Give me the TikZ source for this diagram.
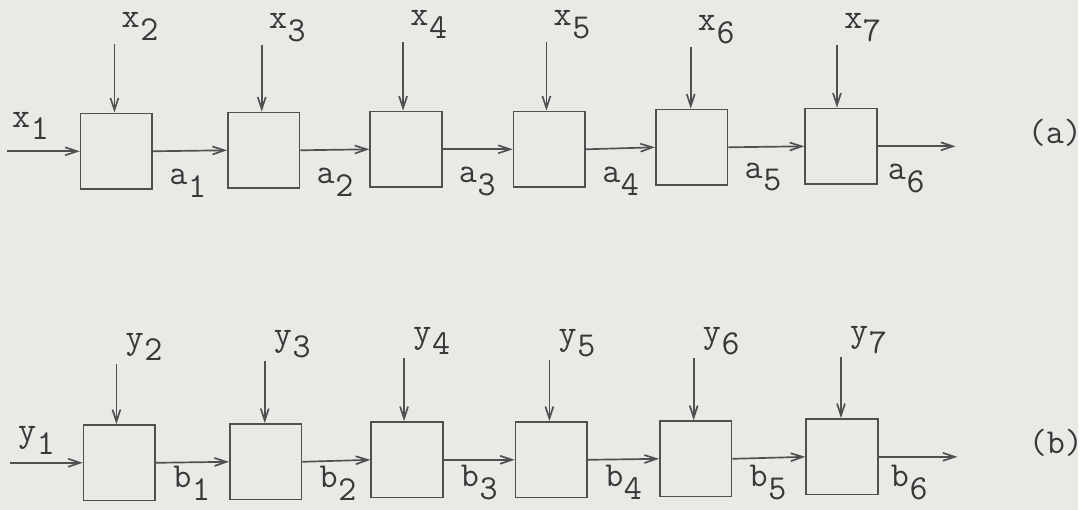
\documentclass[tikz,border=0pt]{standalone}
\usetikzlibrary{arrows.meta}
\definecolor{paper}{RGB}{233,233,230}
\definecolor{ink}{RGB}{80,80,80}
\newcommand{\sublab}[2]{#1\hspace{0.02em}\raisebox{-0.36em}{#2}}

\begin{document}
\begin{tikzpicture}[x=0.025cm, y=-0.025cm,
    blk/.style={rectangle, draw=ink, line width=1.2pt, minimum width=1.8cm,
                minimum height=1.9cm, inner sep=0pt},
    sig/.style={draw=ink, line width=1.2pt,
                -{Straight Barb[length=3mm, width=2mm]}},
    lab/.style={font=\ttfamily\fontsize{25}{30}\selectfont, text=ink!70!black,
                inner sep=0pt, anchor=base west},
  ]
  \fill[paper] (0,0) rectangle (1083,512);

  % Row (a)
  \node[blk] (a1) at (117,152) {};
  \node[blk] (a2) at (265,151) {};
  \node[blk] (a3) at (408,150) {};
  \node[blk] (a4) at (552,150) {};
  \node[blk] (a5) at (695,148) {};
  \node[blk] (a6) at (845,147) {};
  \coordinate (xin1) at (7,152);
  \coordinate (oa) at (960,147);
  \draw[sig] (xin1) -- (a1.west);
  \draw[sig] (a1.east) -- (a2.west);
  \draw[sig] (a2.east) -- (a3.west);
  \draw[sig] (a3.east) -- (a4.west);
  \draw[sig] (a4.east) -- (a5.west);
  \draw[sig] (a5.east) -- (a6.west);
  \draw[sig] (a6.east) -- (oa);

  % Inputs of row (a)
  \coordinate (xin2) at (115,44);
  \coordinate (xin3) at (263,45);
  \coordinate (xin4) at (405,42);
  \coordinate (xin5) at (549,42);
  \coordinate (xin6) at (694,47);
  \coordinate (xin7) at (841,45);
  \draw[sig] (xin2) -- (xin2 |- a1.north);
  \draw[sig] (xin3) -- (xin3 |- a2.north);
  \draw[sig] (xin4) -- (xin4 |- a3.north);
  \draw[sig] (xin5) -- (xin5 |- a4.north);
  \draw[sig] (xin6) -- (xin6 |- a5.north);
  \draw[sig] (xin7) -- (xin7 |- a6.north);

  % Labels of row (a)
  \node[lab] (lx1) at (12,128) {\sublab{x}{1}};
  \node[lab] (lx2) at ([shift={(7,-16)}]xin2) {\sublab{x}{2}};
  \node[lab] (lx3) at ([shift={(7,-16)}]xin3) {\sublab{x}{3}};
  \node[lab] (lx4) at ([shift={(7,-16)}]xin4) {\sublab{x}{4}};
  \node[lab] (lx5) at ([shift={(7,-16)}]xin5) {\sublab{x}{5}};
  \node[lab] (lx6) at ([shift={(7,-16)}]xin6) {\sublab{x}{6}};
  \node[lab] (lx7) at ([shift={(7,-16)}]xin7) {\sublab{x}{7}};
  \node[lab] (la1) at ([shift={(16,-5)}]a1.south east) {\sublab{a}{1}};
  \node[lab] (la2) at ([shift={(16,-5)}]a2.south east) {\sublab{a}{2}};
  \node[lab] (la3) at ([shift={(16,-5)}]a3.south east) {\sublab{a}{3}};
  \node[lab] (la4) at ([shift={(16,-5)}]a4.south east) {\sublab{a}{4}};
  \node[lab] (la5) at ([shift={(16,-8)}]a5.south east) {\sublab{a}{5}};
  \node[lab] (la6) at ([shift={(10,-5)}]a6.south east) {\sublab{a}{6}};
  \node[lab, anchor=center] (ta) at (1060,133) {(a)};

  % Row (b)
  \node[blk] (b1) at (120,465) {};
  \node[blk] (b2) at (267,464) {};
  \node[blk] (b3) at (409,462) {};
  \node[blk] (b4) at (554,462) {};
  \node[blk] (b5) at (699,461) {};
  \node[blk] (b6) at (846,459) {};
  \coordinate (yin1) at (10,465);
  \coordinate (ob) at (962,459);
  \draw[sig] (yin1) -- (b1.west);
  \draw[sig] (b1.east) -- (b2.west);
  \draw[sig] (b2.east) -- (b3.west);
  \draw[sig] (b3.east) -- (b4.west);
  \draw[sig] (b4.east) -- (b5.west);
  \draw[sig] (b5.east) -- (b6.west);
  \draw[sig] (b6.east) -- (ob);

  % Inputs of row (b)
  \coordinate (yin2) at (117,366);
  \coordinate (yin3) at (266,363);
  \coordinate (yin4) at (406,360);
  \coordinate (yin5) at (552,362);
  \coordinate (yin6) at (697,360);
  \coordinate (yin7) at (845,359);
  \draw[sig] (yin2) -- (yin2 |- b1.north);
  \draw[sig] (yin3) -- (yin3 |- b2.north);
  \draw[sig] (yin4) -- (yin4 |- b3.north);
  \draw[sig] (yin5) -- (yin5 |- b4.north);
  \draw[sig] (yin6) -- (yin6 |- b5.north);
  \draw[sig] (yin7) -- (yin7 |- b6.north);

  % Labels of row (b)
  \node[lab] (ly1) at (18,444) {\sublab{y}{1}};
  \node[lab] (ly2) at ([shift={(9,-16)}]yin2) {\sublab{y}{2}};
  \node[lab] (ly3) at ([shift={(9,-16)}]yin3) {\sublab{y}{3}};
  \node[lab] (ly4) at ([shift={(9,-16)}]yin4) {\sublab{y}{4}};
  \node[lab] (ly5) at ([shift={(9,-16)}]yin5) {\sublab{y}{5}};
  \node[lab] (ly6) at ([shift={(9,-16)}]yin6) {\sublab{y}{6}};
  \node[lab] (ly7) at ([shift={(9,-16)}]yin7) {\sublab{y}{7}};
  \node[lab] (lb1) at ([shift={(17,-14)}]b1.south east) {\sublab{b}{1}};
  \node[lab] (lb2) at ([shift={(17,-13)}]b2.south east) {\sublab{b}{2}};
  \node[lab] (lb3) at ([shift={(17,-12)}]b3.south east) {\sublab{b}{3}};
  \node[lab] (lb4) at ([shift={(17,-12)}]b4.south east) {\sublab{b}{4}};
  \node[lab] (lb5) at ([shift={(17,-11)}]b5.south east) {\sublab{b}{5}};
  \node[lab] (lb6) at ([shift={(12,-9)}]b6.south east) {\sublab{b}{6}};
  \node[lab, anchor=center] (tb) at (1061,445) {(b)};
\end{tikzpicture}
\end{document}
